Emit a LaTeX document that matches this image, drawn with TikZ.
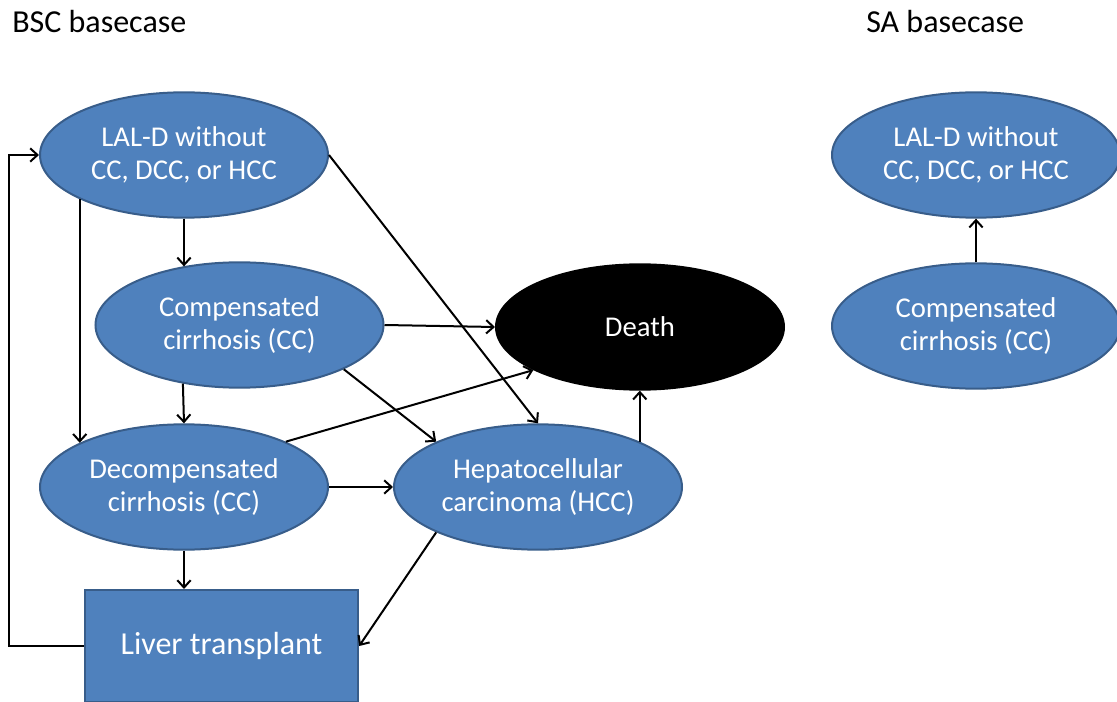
\documentclass[tikz,border=0pt]{standalone}
\usepackage{fontspec}
\setmainfont{Carlito}
\usepackage{xcolor}
\usepackage{tikz}
\usetikzlibrary{positioning,arrows.meta,shapes.geometric}
\definecolor{StateBlue}{HTML}{4F81BD}
\definecolor{StateEdge}{HTML}{385D8A}

\begin{document}
\begin{tikzpicture}[x=0.75pt,y=-0.75pt,
      every node/.style={font=\fontsize{21.5}{25}\selectfont},
      ST/.style={ellipse, draw=StateEdge, fill=StateBlue, line width=1.5pt,
          minimum width=216pt, minimum height=94pt, inner sep=0pt,
          align=center, text=white},
      DT/.style={ST, draw=black, fill=black},
      LT/.style={rectangle, draw=StateEdge, fill=StateBlue, line width=1.5pt,
          minimum width=205pt, minimum height=84pt, inner sep=0pt,
          text=white, font=\fontsize{24}{28}\selectfont},
      ttl/.style={anchor=west, inner sep=0pt, font=\fontsize{24}{28}\selectfont},
      ar/.style={-{Straight Barb[length=5.5pt,width=10pt]}, line width=1.5pt},
    ]
    \useasboundingbox (0,0) rectangle (1117,702);

    % BSC basecase
    \node[ttl] (bsc) at (12,22) {BSC basecase};
    \node[ST] (e1) at (184,155) {LAL-D without\\CC, DCC, or HCC};
    \node[ST] (e2) at (239.5,325) {Compensated\\cirrhosis (CC)};
    \node[ST] (e3) at (184,487) {Decompensated\\cirrhosis (CC)};
    \node[ST] (hcc) at (538,487) {Hepatocellular\\carcinoma (HCC)};
    \node[DT] (death) at (640,327) {Death};
    \node[LT] (liver) at (221.5,646) {Liver transplant};

    \draw[ar] (e1.south) -- (e1.south |- e2.134);
    \draw[ar] (e1.203) -- (e3.157);
    \draw[ar] (e1.east) -- (hcc.north);
    \draw[ar] (e2.226) -- (e3.north);
    \draw[ar] (e2.east) -- (death.west);
    \draw[ar] (e2.337) -- (hcc.156);
    \draw[ar] (e3.24) -- (death.202);
    \draw[ar] (e3.east) -- (hcc.west);
    \draw[ar] (e3.south) -- (e3.south |- liver.north);
    \draw[ar] (hcc.24) -- (hcc.24 |- death.south);
    \draw[ar] (hcc.204) -- (liver.east);
    \draw[ar] (liver.west) -- ++(-75,0) |- (e1.west);

    % SA basecase
    \node[ttl] (sa) at (866,22) {SA basecase};
    \node[ST] (s1) at (976,155) {LAL-D without\\CC, DCC, or HCC};
    \node[ST] (s2) at (976,326) {Compensated\\cirrhosis (CC)};
    \draw[ar] (s2.north) -- (s1.south);
  \end{tikzpicture}
\end{document}
